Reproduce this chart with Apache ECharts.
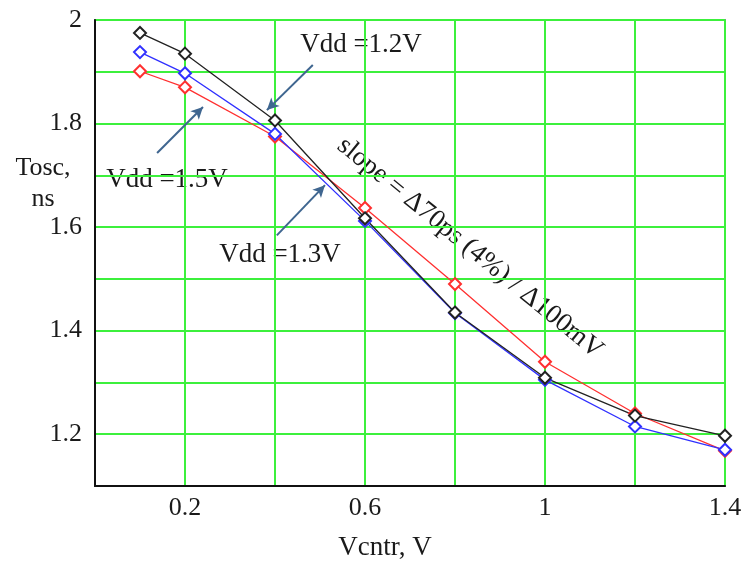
<!DOCTYPE html>
<html>
<head>
<meta charset="utf-8">
<script src="https://cdn.jsdelivr.net/npm/echarts@6/dist/echarts.min.js"></script>
<style>
    html, body { margin: 0; padding: 0; background: #fff; }
    #chart { width: 750px; height: 570px; }
</style>
</head>
<body>
<div id="chart"></div>
<script>
// Vcntr values (V) and oscillation period (ns) per supply
const vcntr = [0.1, 0.2, 0.4, 0.6, 0.8, 1.0, 1.2, 1.4];
const toscVdd12 = [1.975, 1.935, 1.806, 1.617, 1.435, 1.309, 1.236, 1.197];
const toscVdd13 = [1.938, 1.897, 1.780, 1.612, 1.434, 1.305, 1.215, 1.170];
const toscVdd15 = [1.901, 1.870, 1.775, 1.637, 1.490, 1.340, 1.240, 1.168];
const xTickLabels = ['0.2', '0.6', '1', '1.4'];
const yTickLabels = ['1.2', '1.4', '1.6', '1.8', '2'];

// annotation arrows, [from, to] in data coords
const arrowVdd12 = [[0.484, 1.913], [0.382, 1.826]];
const arrowVdd15 = [[0.138, 1.743], [0.240, 1.832]];
const arrowVdd13 = [[0.404, 1.584], [0.511, 1.681]];

const serif = '"Liberation Serif", "DejaVu Serif", serif';
const gridGreen = '#3cf03c';

function pairs(ys) {
    return vcntr.map(function (x, i) { return [x, ys[i]]; });
}

function fmt(v) {
    return String(Number(v.toFixed(1)));
}

function lineSeries(name, ys, color) {
    return {
        name: name,
        type: 'line',
        data: pairs(ys),
        symbol: 'emptyDiamond',
        symbolSize: 12,
        itemStyle: { color: color, borderWidth: 1.2 },
        lineStyle: { color: color, width: 1.3 },
        z: 3
    };
}

function arrow(a) {
    return [
        { coord: a[0], symbol: 'none' },
        { coord: a[1], symbol: 'arrow' }
    ];
}

function label(text, x, y, size) {
    return {
        type: 'text', x: x, y: y,
        style: { text: text, font: size + 'px ' + serif, fill: '#1a1a1a', align: 'center', verticalAlign: 'middle' }
    };
}

const chart = echarts.init(document.getElementById('chart'));

chart.setOption({
    animation: false,
    backgroundColor: '#fff',
    grid: {
        left: 95, right: 25, top: 20, bottom: 84,
        show: true,
        borderColor: '#2a3a2a',
        borderWidth: 1.5
    },
    xAxis: {
        type: 'value',
        min: 0, max: 1.4, interval: 0.2,
        axisLine: { show: true, lineStyle: { color: '#111', width: 2 } },
        axisTick: { show: false },
        splitLine: { show: true, lineStyle: { color: gridGreen, width: 2 } },
        axisLabel: {
            margin: 9,
            fontFamily: serif, fontSize: 26, color: '#1a1a1a',
            formatter: function (v) {
                const s = fmt(v);
                return xTickLabels.indexOf(s) >= 0 ? s : '';
            }
        }
    },
    yAxis: {
        type: 'value',
        min: 1.1, max: 2, interval: 0.1,
        axisLine: { show: true, lineStyle: { color: '#111', width: 2 } },
        axisTick: { show: false },
        splitLine: { show: true, lineStyle: { color: gridGreen, width: 2 } },
        axisLabel: {
            margin: 13,
            fontFamily: serif, fontSize: 26, color: '#1a1a1a',
            formatter: function (v) {
                const s = fmt(v);
                return yTickLabels.indexOf(s) >= 0 ? s : '';
            }
        }
    },
    series: [
        lineSeries('Vdd=1.5V', toscVdd15, '#ff3030'),
        lineSeries('Vdd=1.3V', toscVdd13, '#3030ff'),
        lineSeries('Vdd=1.2V', toscVdd12, '#222222'),
        {
            name: 'arrows',
            type: 'line',
            data: [],
            silent: true,
            markLine: {
                silent: true,
                symbolSize: [9, 12],
                label: { show: false },
                lineStyle: { color: '#3f6690', width: 2, type: 'solid' },
                data: [arrow(arrowVdd12), arrow(arrowVdd15), arrow(arrowVdd13)]
            }
        }
    ],
    graphic: [
        label('Vdd =1.2V', 361, 45, 27),
        label('Vdd =1.5V', 167, 180, 27),
        label('Vdd =1.3V', 280, 255, 27),
        {
            type: 'text', x: 470, y: 248, rotation: -0.684,
            style: { text: 'slope = \u039470ps (4%) / \u0394100mV', font: '27px ' + serif, fill: '#1a1a1a', align: 'center', verticalAlign: 'middle' }
        },
        {
            type: 'text', x: 43, y: 184,
            style: { text: 'Tosc,\nns', font: '26px ' + serif, fill: '#1a1a1a', align: 'center', verticalAlign: 'middle', lineHeight: 31 }
        },
        label('Vcntr, V', 385, 548, 27)
    ]
});
</script>
</body>
</html>
